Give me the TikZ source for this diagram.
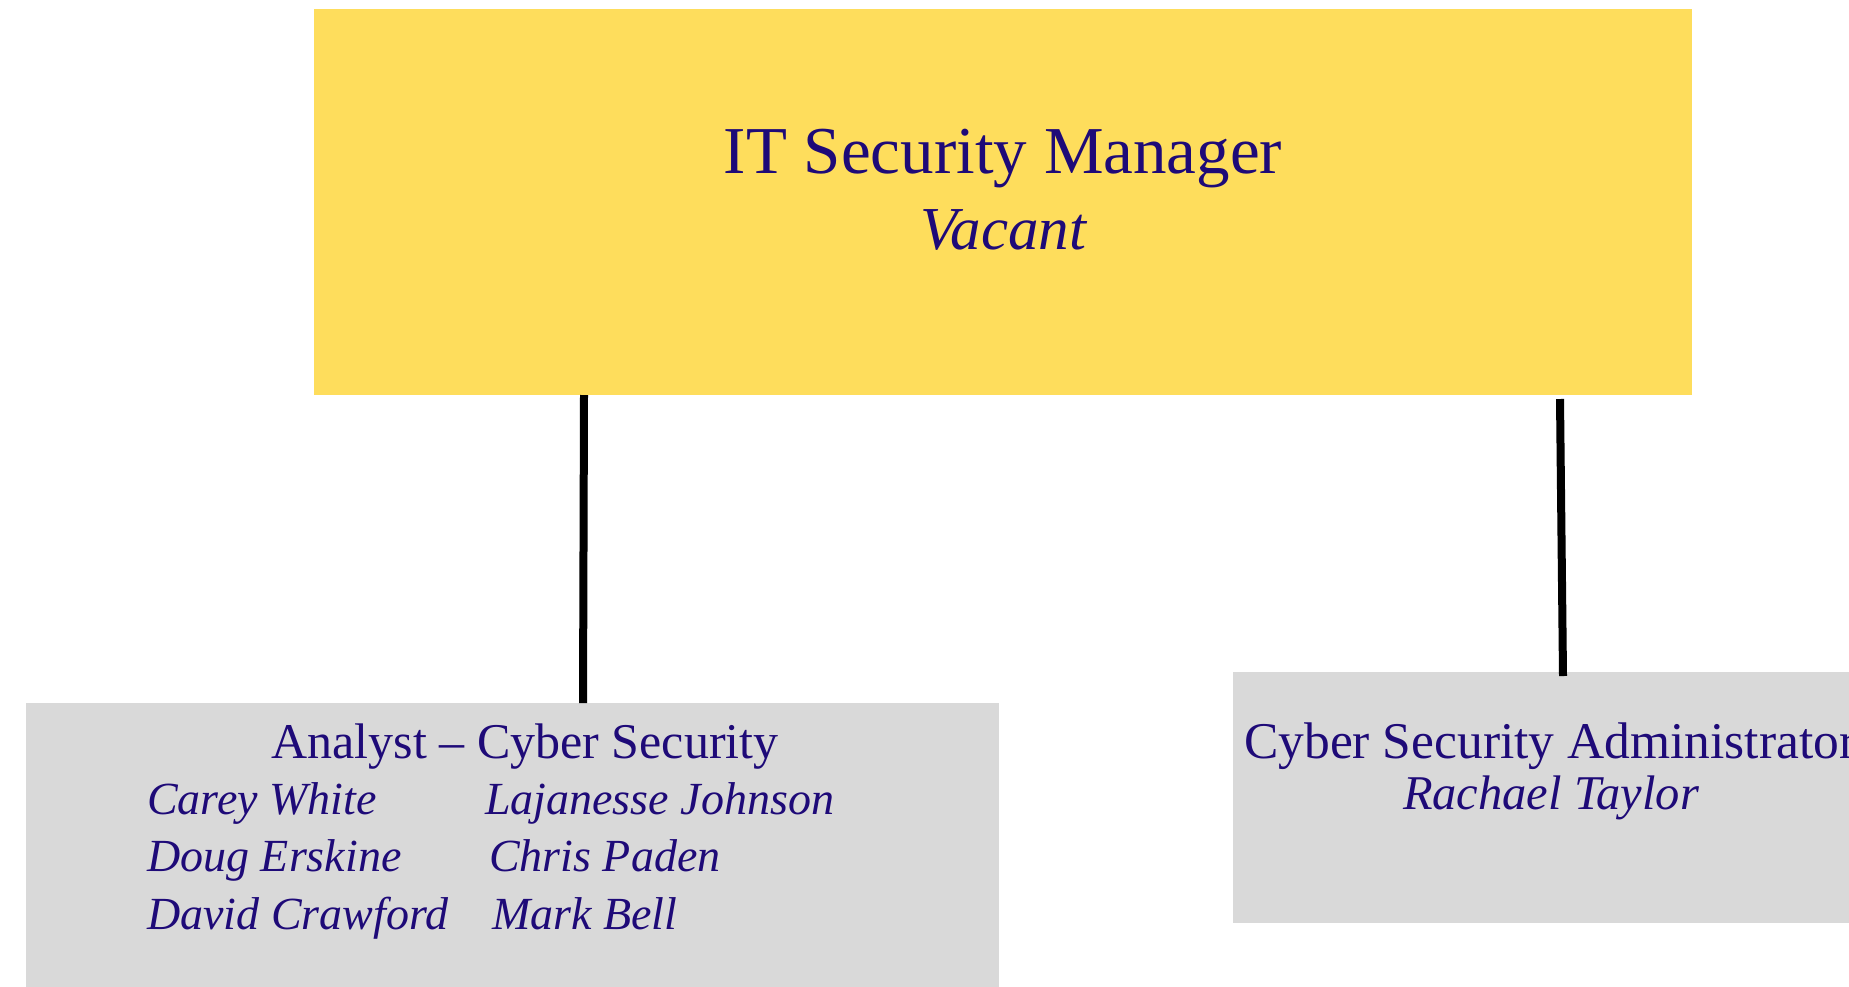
\documentclass[tikz,border=0pt]{standalone}
\usepackage{fontspec}
\setmainfont{Liberation Serif}
\definecolor{ink}{RGB}{30,10,120}
\definecolor{gold}{RGB}{254,221,92}
\definecolor{grey}{RGB}{217,217,217}
\tikzset{
  boxbg/.style={draw=none, inner sep=0pt, anchor=north west},
  txt/.style={text=ink, inner sep=0pt},
  link/.style={line width=8pt, black}
}
\begin{document}
\begin{tikzpicture}[x=1pt,y=-1pt]
\useasboundingbox (0,0) rectangle (1849,986);
\clip (0,0) rectangle (1849,986);
\node[boxbg, fill=gold, minimum width=1378pt, minimum height=386pt] (mgr) at (314,9) {};
\node[boxbg, fill=grey, minimum width=973pt, minimum height=300pt] (ana) at (26,703) {};
\node[boxbg, fill=grey, minimum width=640pt, minimum height=251pt] (adm) at (1233,672) {};
% titles
\node[txt, anchor=base] (t1) at (1003,173) {\fontsize{67}{70}\selectfont IT Security Manager};
\node[txt, anchor=base] (t2) at (1003,249) {\fontsize{61}{63}\selectfont\itshape Vacant};
\node[txt, anchor=base] (t3) at (525,758) {\fontsize{50}{52}\selectfont Analyst – Cyber Security};
\node[txt, anchor=base west] (n1) at (147,814) {\fontsize{46}{48}\selectfont\itshape Carey White};
\node[txt, anchor=base west] (n2) at (485,814) {\fontsize{46}{48}\selectfont\itshape Lajanesse Johnson};
\node[txt, anchor=base west] (n3) at (147,871) {\fontsize{46}{48}\selectfont\itshape Doug Erskine};
\node[txt, anchor=base west] (n4) at (489,871) {\fontsize{46}{48}\selectfont\itshape Chris Paden};
\node[txt, anchor=base west] (n5) at (147,929) {\fontsize{46}{48}\selectfont\itshape David Crawford};
\node[txt, anchor=base west] (n6) at (492,929) {\fontsize{46}{48}\selectfont\itshape Mark Bell};
\node[txt, anchor=base west] (t4) at (1244,758) {\fontsize{51.5}{53}\selectfont Cyber Security Administrator};
\node[txt, anchor=base] (t5) at (1551,809) {\fontsize{48.5}{50}\selectfont\itshape Rachael Taylor};
% connectors
\coordinate (l1) at (584,395);
\coordinate (l2) at (583,703);
\coordinate (r1) at (1560,399);
\coordinate (r2) at (1563,676);
\draw[link] (l1) -- (l2);
\draw[link] (r1) -- (r2);
\end{tikzpicture}
\end{document}
